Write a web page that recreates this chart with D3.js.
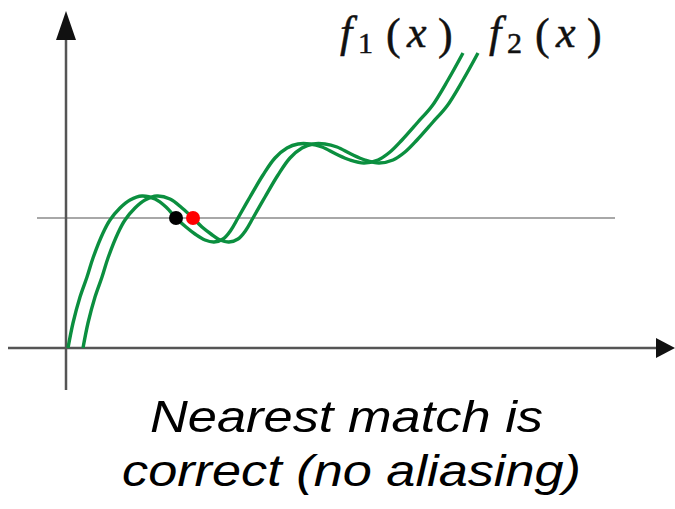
<!DOCTYPE html>
<html>
<head>
<meta charset="utf-8">
<script src="https://cdn.jsdelivr.net/npm/d3@7/dist/d3.min.js"></script>
<style>
  html, body { margin: 0; padding: 0; background: #fff; }
  svg { display: block; }
</style>
</head>
<body>
<svg id="chart" width="675" height="509"></svg>
<script>
// Sampled points of the two shifted curves (x, y in plot units)
const f1X = [0.2, 0.7, 1.4, 2.1, 2.7, 3.7, 4.4, 5.4, 6.4, 7.6, 8.9, 10.0, 11.0, 12.0, 12.9, 13.9, 14.8, 15.7, 16.5, 17.2, 18.4, 19.7, 20.9, 22.1, 23.2, 24.4, 25.6, 27.0, 28.4, 29.8, 31.2, 32.4, 33.6, 35.2, 36.6, 38.2, 39.7];
const f1Y = [0, 2.5, 5.1, 7.1, 9.0, 11.5, 12.8, 14.0, 14.8, 15.2, 14.9, 14.1, 13.0, 12.1, 11.4, 10.8, 10.6, 10.9, 11.8, 13.0, 15.1, 17.3, 19.0, 20.0, 20.4, 20.4, 20.1, 19.4, 18.8, 18.5, 18.8, 19.6, 20.8, 22.6, 24.2, 26.8, 29.5];
const f2X = [1.7, 2.2, 2.9, 3.6, 4.2, 5.2, 5.9, 6.9, 7.9, 9.1, 10.4, 11.6, 12.7, 13.6, 14.5, 15.4, 16.3, 17.2, 18.0, 18.7, 19.9, 21.2, 22.4, 23.6, 24.7, 25.9, 27.1, 28.5, 29.9, 31.3, 32.7, 33.9, 35.1, 36.7, 38.1, 39.7, 41.2];
const f2Y = [0, 2.5, 5.1, 7.1, 9.0, 11.5, 12.8, 14.0, 14.8, 15.2, 14.9, 14.0, 13.0, 12.1, 11.4, 10.8, 10.6, 10.9, 11.8, 13.0, 15.1, 17.3, 19.0, 20.0, 20.4, 20.4, 20.1, 19.4, 18.8, 18.5, 18.8, 19.6, 20.8, 22.6, 24.2, 26.8, 29.5];

// Query level and the two matches found on it
const queryLevel = 13.0;
const matchX = [11.0, 12.7];
const matchColors = ["#000000", "#ff0000"];

const curveLabels = ["1", "2"];
const captionLines = ["Nearest match is", "correct (no aliasing)"];

const svg = d3.select("#chart");
const x = d3.scaleLinear().domain([0, 60]).range([66, 666]);
const y = d3.scaleLinear().domain([0, 30]).range([348, 48]);

const green = "#0b8f3f";
const axisColor = "#555555";

// Query line
svg.append("line")
  .attr("x1", 37).attr("x2", 615)
  .attr("y1", y(queryLevel)).attr("y2", y(queryLevel))
  .attr("stroke", "#a8a8a8").attr("stroke-width", 2);

// Axes with arrowheads
svg.append("line")
  .attr("x1", x(0)).attr("x2", x(0))
  .attr("y1", 390).attr("y2", 38)
  .attr("stroke", axisColor).attr("stroke-width", 2.5);
svg.append("path")
  .attr("d", `M${x(0)},11 L${x(0) - 10},40 L${x(0) + 10},40 Z`)
  .attr("fill", "#111");

svg.append("line")
  .attr("x1", 8).attr("x2", 658)
  .attr("y1", y(0)).attr("y2", y(0))
  .attr("stroke", axisColor).attr("stroke-width", 2.5);
svg.append("path")
  .attr("d", `M675,${y(0)} L656,${y(0) - 10} L656,${y(0) + 10} Z`)
  .attr("fill", "#111");

// Curves
const line = d3.line()
  .x(d => x(d[0]))
  .y(d => y(d[1]))
  .curve(d3.curveCatmullRom.alpha(0.5));

[[f1X, f1Y], [f2X, f2Y]].forEach(([xs, ys]) => {
  svg.append("path")
    .datum(xs.map((v, i) => [v, ys[i]]))
    .attr("d", line)
    .attr("fill", "none")
    .attr("stroke", green)
    .attr("stroke-width", 3.4)
    .attr("stroke-linecap", "butt");
});

// Match points
svg.selectAll("circle.match")
  .data(matchX)
  .join("circle")
  .attr("class", "match")
  .attr("cx", d => x(d))
  .attr("cy", y(queryLevel))
  .attr("r", 7)
  .attr("fill", (d, i) => matchColors[i]);

// Curve labels f_i(x)
const labelStarts = [338, 487];
curveLabels.forEach((sub, i) => {
  const x0 = labelStarts[i];
  const t = svg.append("text")
    .attr("font-family", "'Liberation Serif', 'DejaVu Serif', serif")
    .attr("font-size", 44)
    .attr("fill", "#111")
    .attr("stroke", "#111")
    .attr("stroke-width", 0.5);
  t.append("tspan").attr("x", x0 + 2).attr("y", 47).attr("font-style", "italic").text("f");
  t.append("tspan").attr("x", x0 + 20).attr("y", 53).attr("font-size", 30).text(sub);
  t.append("tspan").attr("x", x0 + 48).attr("y", 49).text("(");
  t.append("tspan").attr("x", x0 + 69).attr("y", 47).attr("font-style", "italic").text("x");
  t.append("tspan").attr("x", x0 + 100).attr("y", 49).text(")");
});

// Caption
const captionWidths = [393, 459];
const captionLeft = [150, 122];
const captionBase = [432, 486];
captionLines.forEach((s, i) => {
  svg.append("text")
    .attr("x", captionLeft[i])
    .attr("y", captionBase[i])
    .attr("font-family", "'Liberation Sans', Arial, sans-serif")
    .attr("font-style", "italic")
    .attr("font-size", 44)
    .attr("fill", "#000")
    .attr("textLength", captionWidths[i])
    .attr("lengthAdjust", "spacingAndGlyphs")
    .text(s);
});
</script>
</body>
</html>
